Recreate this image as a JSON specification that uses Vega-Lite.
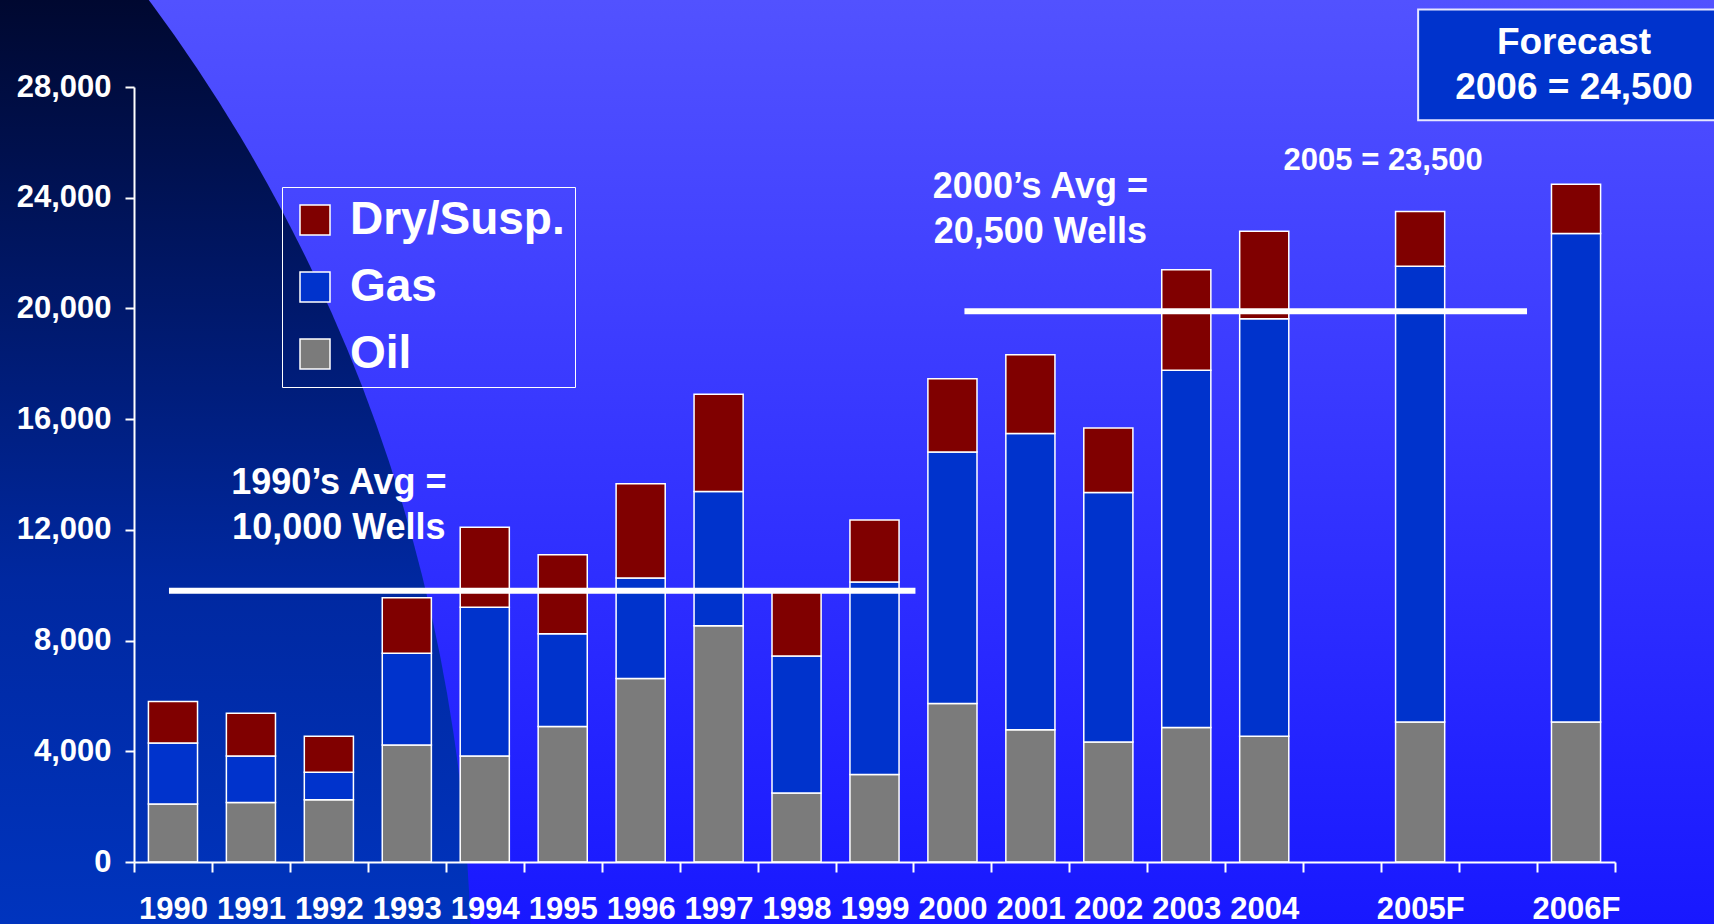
{
  "$schema": "https://vega.github.io/schema/vega-lite/v6.json",
  "width": 1481,
  "height": 775,
  "autosize": {"type": "none"},
  "padding": {"left": 134, "top": 87, "right": 99, "bottom": 62},
  "background": "#2a2aff",
  "config": {
    "view": {"stroke": null},
    "font": "Liberation Sans"
  },
  "datasets": {
    "decor": [{"item": "backdrop"}],
    "wells": [
      {"year": "1990", "type": "Oil", "wells": 2100}, {"year": "1990", "type": "Gas", "wells": 2200}, {"year": "1990", "type": "Dry/Susp.", "wells": 1500},
      {"year": "1991", "type": "Oil", "wells": 2150}, {"year": "1991", "type": "Gas", "wells": 1680}, {"year": "1991", "type": "Dry/Susp.", "wells": 1540},
      {"year": "1992", "type": "Oil", "wells": 2250}, {"year": "1992", "type": "Gas", "wells": 990}, {"year": "1992", "type": "Dry/Susp.", "wells": 1300},
      {"year": "1993", "type": "Oil", "wells": 4230}, {"year": "1993", "type": "Gas", "wells": 3310}, {"year": "1993", "type": "Dry/Susp.", "wells": 2010},
      {"year": "1994", "type": "Oil", "wells": 3830}, {"year": "1994", "type": "Gas", "wells": 5370}, {"year": "1994", "type": "Dry/Susp.", "wells": 2890},
      {"year": "1995", "type": "Oil", "wells": 4900}, {"year": "1995", "type": "Gas", "wells": 3350}, {"year": "1995", "type": "Dry/Susp.", "wells": 2850},
      {"year": "1996", "type": "Oil", "wells": 6630}, {"year": "1996", "type": "Gas", "wells": 3630}, {"year": "1996", "type": "Dry/Susp.", "wells": 3410},
      {"year": "1997", "type": "Oil", "wells": 8540}, {"year": "1997", "type": "Gas", "wells": 4850}, {"year": "1997", "type": "Dry/Susp.", "wells": 3510},
      {"year": "1998", "type": "Oil", "wells": 2490}, {"year": "1998", "type": "Gas", "wells": 4950}, {"year": "1998", "type": "Dry/Susp.", "wells": 2360},
      {"year": "1999", "type": "Oil", "wells": 3160}, {"year": "1999", "type": "Gas", "wells": 6960}, {"year": "1999", "type": "Dry/Susp.", "wells": 2240},
      {"year": "2000", "type": "Oil", "wells": 5730}, {"year": "2000", "type": "Gas", "wells": 9080}, {"year": "2000", "type": "Dry/Susp.", "wells": 2650},
      {"year": "2001", "type": "Oil", "wells": 4780}, {"year": "2001", "type": "Gas", "wells": 10700}, {"year": "2001", "type": "Dry/Susp.", "wells": 2850},
      {"year": "2002", "type": "Oil", "wells": 4340}, {"year": "2002", "type": "Gas", "wells": 9010}, {"year": "2002", "type": "Dry/Susp.", "wells": 2330},
      {"year": "2003", "type": "Oil", "wells": 4860}, {"year": "2003", "type": "Gas", "wells": 12910}, {"year": "2003", "type": "Dry/Susp.", "wells": 3630},
      {"year": "2004", "type": "Oil", "wells": 4540}, {"year": "2004", "type": "Gas", "wells": 15090}, {"year": "2004", "type": "Dry/Susp.", "wells": 3160},
      {"year": "2005F", "type": "Oil", "wells": 5060}, {"year": "2005F", "type": "Gas", "wells": 16460}, {"year": "2005F", "type": "Dry/Susp.", "wells": 1980},
      {"year": "2006F", "type": "Oil", "wells": 5060}, {"year": "2006F", "type": "Gas", "wells": 17650}, {"year": "2006F", "type": "Dry/Susp.", "wells": 1780}
    ],
    "avgs": [
      {"period": "1990s", "start": "1990", "end": "2000", "avg": 9800},
      {"period": "2000s", "start": "2000", "end": "2006F", "avg": 19900}
    ],
    "notes": [
      {"kind": "avg", "text": ["1990’s Avg =", "10,000 Wells"], "year": "1992", "value": 13300},
      {"kind": "avg", "text": ["2000’s Avg =", "20,500 Wells"], "year": "2001", "value": 23980},
      {"kind": "y2005", "text": "2005 = 23,500", "year": "2005F", "value": 25000},
      {"kind": "forecast", "text": ["Forecast", "2006 = 24,500"], "year": "2006F", "value": 29180}
    ]
  },
  "layer": [
    {
      "data": {"name": "decor"},
      "mark": {
        "type": "rect", "x": -134, "y": -87, "x2": 1580, "y2": 837, "stroke": null,
        "fill": {"gradient": "linear", "x1": 0, "y1": 0, "x2": 0, "y2": 1,
          "stops": [{"offset": 0, "color": "#5252FF"}, {"offset": 1, "color": "#1818FF"}]}
      },
      "encoding": {}
    },
    {
      "data": {"name": "decor"},
      "mark": {
        "type": "arc",
        "x": -1287, "y": 884,
        "outerRadius": 1624, "innerRadius": 0,
        "theta": 0, "theta2": 6.2832,
        "stroke": null,
        "fill": {"gradient": "linear", "x1": 0, "y1": 0, "x2": 0, "y2": 1,
          "stops": [
            {"offset": 0.201, "color": "#000830"},
            {"offset": 0.2934, "color": "#00186A"},
            {"offset": 0.3796, "color": "#0028A0"},
            {"offset": 0.4855, "color": "#0034BE"}
          ]}
      },
      "encoding": {}
    },
    {
      "data": {"name": "wells"},
      "mark": {"type": "bar", "width": {"band": 0.63}, "stroke": "white", "strokeWidth": 1.5},
      "encoding": {
        "x": {
          "field": "year", "type": "ordinal",
          "scale": {"domain": ["1990","1991","1992","1993","1994","1995","1996","1997","1998","1999","2000","2001","2002","2003","2004","gap1","2005F","gap2","2006F"], "paddingInner": 0, "paddingOuter": 0},
          "axis": {
            "title": null, "orient": "bottom", "tickBand": "extent",
            "labelExpr": "(datum.label == 'gap1' || datum.label == 'gap2') ? '' : datum.label",
            "labelFont": "Liberation Sans", "labelFontSize": 31, "labelFontWeight": "bold", "labelColor": "white",
            "labelPadding": 22, "labelAngle": 0, "labelOverlap": false, "labelBound": false,
            "tickSize": 10, "tickWidth": 2, "tickColor": "white",
            "domainColor": "white", "domainWidth": 2, "grid": false, "zindex": 1
          }
        },
        "y": {
          "field": "wells", "type": "quantitative", "stack": "zero",
          "scale": {"domain": [0, 28000], "nice": false},
          "axis": {
            "title": null,
            "values": [0, 4000, 8000, 12000, 16000, 20000, 24000, 28000],
            "labelExpr": "format(datum.value, ',')",
            "labelFont": "Liberation Sans", "labelFontSize": 31, "labelFontWeight": "bold", "labelColor": "white",
            "labelPadding": 14, "tickSize": 9, "tickWidth": 2, "tickColor": "white",
            "domainColor": "white", "domainWidth": 2, "grid": false, "zindex": 1
          }
        },
        "color": {
          "field": "type", "type": "nominal",
          "scale": {"domain": ["Dry/Susp.", "Gas", "Oil"], "range": ["#800000", "#0033CC", "#7B7B7B"]},
          "legend": {
            "title": null, "orient": "none", "legendX": 148, "legendY": 100, "direction": "vertical",
            "symbolType": "square", "symbolSize": 900, "symbolStrokeColor": "white", "symbolStrokeWidth": 1.5, "symbolOpacity": 1,
            "labelFont": "Liberation Sans", "labelFontSize": 46, "labelFontWeight": "bold", "labelColor": "white",
            "labelLimit": 500, "labelOffset": 12, "rowPadding": 21, "padding": 10,
            "strokeColor": "white", "zindex": 2
          }
        },
        "order": {"field": "type", "sort": "descending"}
      }
    },
    {
      "data": {"name": "avgs"},
      "transform": [{"filter": "datum.period == '1990s'"}],
      "mark": {"type": "rule", "color": "white", "strokeWidth": 6, "xOffset": -4, "x2Offset": -37},
      "encoding": {
        "x": {"field": "start", "type": "ordinal"},
        "x2": {"field": "end"},
        "y": {"field": "avg", "type": "quantitative"}
      }
    },
    {
      "data": {"name": "avgs"},
      "transform": [{"filter": "datum.period == '2000s'"}],
      "mark": {"type": "rule", "color": "white", "strokeWidth": 6, "xOffset": 12, "x2Offset": -49},
      "encoding": {
        "x": {"field": "start", "type": "ordinal"},
        "x2": {"field": "end"},
        "y": {"field": "avg", "type": "quantitative"}
      }
    },
    {
      "data": {"name": "notes"},
      "transform": [{"filter": "datum.kind == 'avg'"}],
      "mark": {"type": "text", "font": "Liberation Sans", "fontWeight": "bold", "fontSize": 36, "color": "white", "align": "center", "baseline": "alphabetic", "lineHeight": 45, "dx": 10},
      "encoding": {
        "x": {"field": "year", "type": "ordinal"},
        "y": {"field": "value", "type": "quantitative"},
        "text": {"field": "text"}
      }
    },
    {
      "data": {"name": "notes"},
      "transform": [{"filter": "datum.kind == 'y2005'"}],
      "mark": {"type": "text", "font": "Liberation Sans", "fontWeight": "bold", "fontSize": 31, "color": "white", "align": "center", "baseline": "alphabetic", "dx": -37},
      "encoding": {
        "x": {"field": "year", "type": "ordinal"},
        "y": {"field": "value", "type": "quantitative"},
        "text": {"field": "text"}
      }
    },
    {
      "data": {"name": "decor"},
      "mark": {"type": "rect", "fill": "#0033CC", "stroke": "#E6E6FF", "strokeWidth": 2, "xOffset": -2, "x2Offset": 140},
      "encoding": {
        "x": {"datum": "2005F", "type": "ordinal"},
        "x2": {"datum": "2006F"},
        "y": {"datum": 30800, "type": "quantitative"},
        "y2": {"datum": 26800}
      }
    },
    {
      "data": {"name": "notes"},
      "transform": [{"filter": "datum.kind == 'forecast'"}],
      "mark": {"type": "text", "font": "Liberation Sans", "fontWeight": "bold", "fontSize": 37, "color": "white", "align": "center", "baseline": "alphabetic", "lineHeight": 45, "dx": -2},
      "encoding": {
        "x": {"field": "year", "type": "ordinal"},
        "y": {"field": "value", "type": "quantitative"},
        "text": {"field": "text"}
      }
    }
  ]
}
